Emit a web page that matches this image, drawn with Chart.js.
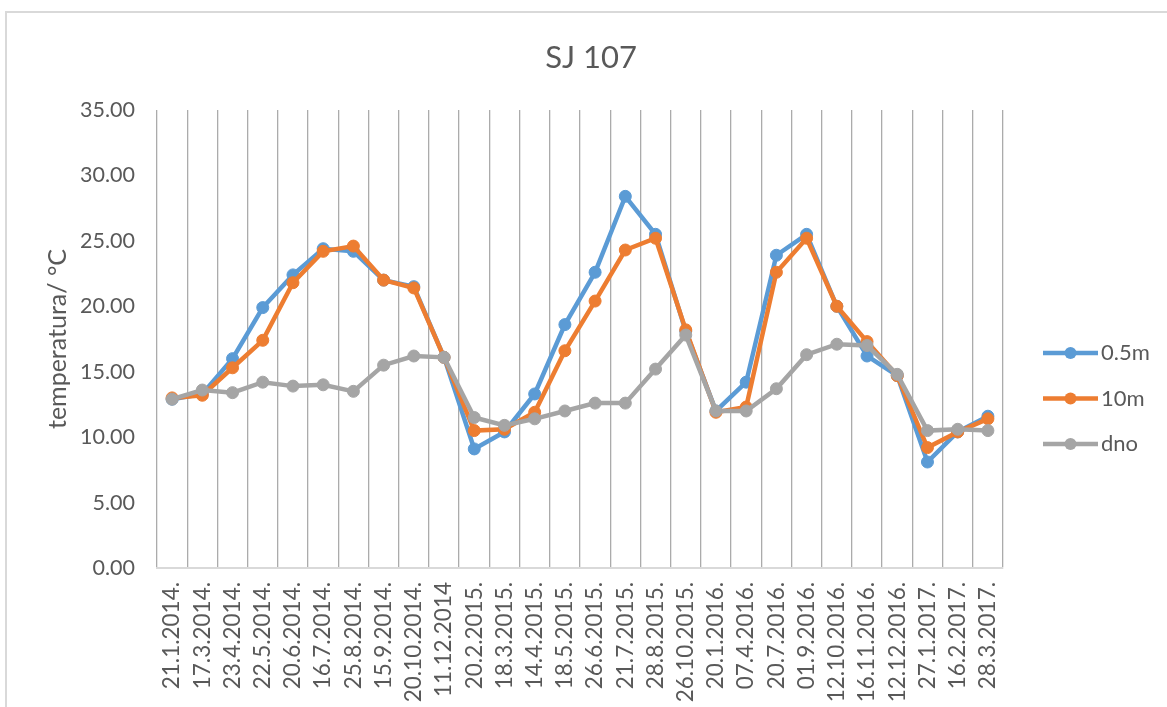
<!DOCTYPE html>
<html lang="hr">
<head>
  <meta charset="UTF-8">
  <title>SJ 107</title>
  <style>
    html, body { margin: 0; padding: 0; background: #FFF; }
    body { width: 1167px; height: 707px; position: relative; overflow: hidden; }
    /* light frame round the chart, like the Excel chart border */
    .frame {
      position: absolute;
      left: 5px; top: 11px;
      width: 1180px; height: 720px;
      border: 2px solid #D9D9D9;
      box-sizing: border-box;
    }
    #tempChart { position: absolute; left: 0; top: 0; }
  </style>
  <script src="https://cdn.jsdelivr.net/npm/chart.js@4.4.1/dist/chart.umd.min.js"></script>
</head>
<body>
  <div class="frame"></div>
  <canvas id="tempChart" width="1167" height="707"></canvas>

  <script>
    // --- data ---
    const dates = ['21.1.2014.', '17.3.2014.', '23.4.2014.', '22.5.2014.', '20.6.2014.', '16.7.2014.',
      '25.8.2014.', '15.9.2014.', '20.10.2014.', '11.12.2014', '20.2.2015.', '18.3.2015.', '14.4.2015.',
      '18.5.2015.', '26.6.2015.', '21.7.2015.', '28.8.2015.', '26.10.2015.', '20.1.2016.', '07.4.2016.',
      '20.7.2016.', '01.9.2016.', '12.10.2016.', '16.11.2016.', '12.12.2016.', '27.1.2017.', '16.2.2017.',
      '28.3.2017.'];

    const surface = [12.9, 13.3, 16.0, 19.9, 22.4, 24.4, 24.2, 22.0, 21.5, 16.1, 9.1, 10.4, 13.3, 18.6,
      22.6, 28.4, 25.5, 18.1, 12.0, 14.2, 23.9, 25.5, 20.0, 16.2, 14.7, 8.1, 10.4, 11.6];   // 0.5m
    const depth10 = [13.0, 13.2, 15.3, 17.4, 21.8, 24.2, 24.6, 22.0, 21.4, 16.1, 10.5, 10.6, 11.9, 16.6,
      20.4, 24.3, 25.2, 18.2, 11.9, 12.3, 22.6, 25.2, 20.0, 17.3, 14.7, 9.2, 10.4, 11.4];   // 10m
    const bottom = [12.9, 13.6, 13.4, 14.2, 13.9, 14.0, 13.5, 15.5, 16.2, 16.1, 11.5, 10.9, 11.4, 12.0,
      12.6, 12.6, 15.2, 17.8, 12.0, 12.0, 13.7, 16.3, 17.1, 17.0, 14.8, 10.5, 10.6, 10.5];  // dno

    const seriesNames = ['0.5m', '10m', 'dno'];
    const seriesColors = ['#5B9BD5', '#ED7D31', '#A5A5A5'];
    const yTicks = [0, 5, 10, 15, 20, 25, 30, 35];
    const chartTitle = 'SJ 107';

    const FONT = 'Lato, "Open Sans", sans-serif';
    const TEXT = '#595959';

    // title centred on the whole picture + Excel-style legend on the right
    const decorations = {
      id: 'decorations',
      afterDraw(chart) {
        const ctx = chart.ctx;
        ctx.save();
        ctx.fillStyle = TEXT;
        ctx.font = '31px ' + FONT;
        ctx.textAlign = 'center';
        ctx.textBaseline = 'middle';
        ctx.fillText(chartTitle, 591, 58);

        chart.data.datasets.forEach((ds, i) => {
          const y = 353 + i * 45.5;
          ctx.strokeStyle = ds.borderColor;
          ctx.lineWidth = 4.5;
          ctx.beginPath();
          ctx.moveTo(1043, y);
          ctx.lineTo(1098, y);
          ctx.stroke();
          ctx.fillStyle = ds.borderColor;
          ctx.beginPath();
          ctx.arc(1070.5, y, 6, 0, Math.PI * 2);
          ctx.fill();
          ctx.fillStyle = TEXT;
          ctx.font = '22px ' + FONT;
          ctx.textAlign = 'left';
          ctx.fillText(ds.label, 1101, y);
        });
        ctx.restore();
      }
    };

    const values = [surface, depth10, bottom];

    new Chart(document.getElementById('tempChart'), {
      type: 'line',
      data: {
        labels: dates,
        datasets: values.map((v, i) => ({
          label: seriesNames[i],
          data: v,
          borderColor: seriesColors[i],
          backgroundColor: seriesColors[i],
          borderWidth: 4.5,
          pointRadius: 6,
          pointBorderWidth: 1,
          pointBackgroundColor: seriesColors[i],
          pointBorderColor: seriesColors[i],
          tension: 0,
          order: 2 - i   // later series drawn on top, as in Excel
        }))
      },
      options: {
        responsive: false,
        animation: false,
        layout: { padding: { left: 10, right: 164, top: 110, bottom: 0 } },
        scales: {
          x: {
            type: 'category',
            offset: true,
            afterFit: s => { s.height = 139; },
            grid: { offset: true, color: '#ABABAB', lineWidth: 1.3, drawTicks: false },
            border: { color: '#D9D9D9', width: 2 },
            ticks: {
              color: TEXT,
              font: { family: FONT, size: 22.5 },
              minRotation: 90,
              maxRotation: 90,
              autoSkip: false,
              padding: 14
            }
          },
          y: {
            min: 0,
            max: 35,
            afterFit: s => { s.width = 147; },
            afterBuildTicks: s => { s.ticks = yTicks.map(v => ({ value: v })); },
            grid: { display: false, drawTicks: false },
            border: { display: false },
            ticks: {
              color: TEXT,
              font: { family: FONT, size: 21.5 },
              padding: 22,
              callback: v => Number(v).toFixed(2)
            },
            title: {
              display: true,
              text: 'temperatura/ °C',
              color: TEXT,
              font: { family: FONT, size: 25 },
              padding: { top: 33 }
            }
          }
        },
        plugins: {
          legend: { display: false },
          tooltip: { enabled: false },
          title: { display: false }
        }
      },
      plugins: [decorations]
    });
  </script>
</body>
</html>
